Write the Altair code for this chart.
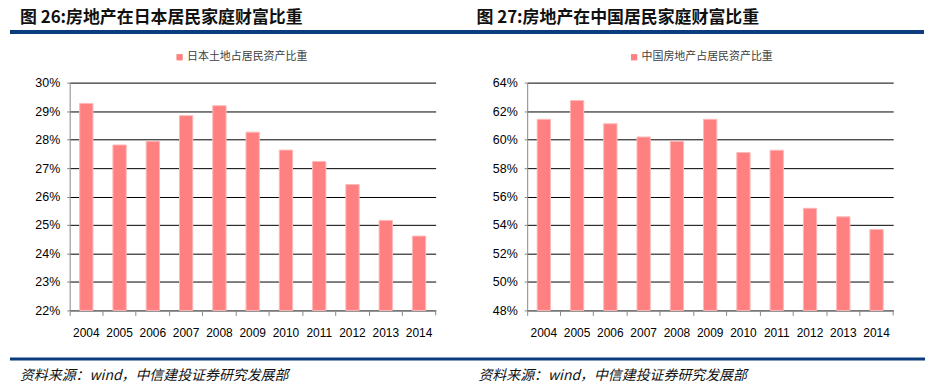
import altair as alt
import pandas as pd

years = [str(y) for y in range(2004, 2015)]
japan = [29.27, 27.81, 27.94, 28.84, 29.19, 28.26, 27.63, 27.23, 26.42, 25.16, 24.61]
china = [61.42, 62.74, 61.11, 60.18, 59.88, 61.42, 59.09, 59.25, 55.17, 54.57, 53.68]

japan_ticks = [22, 23, 24, 25, 26, 27, 28, 29, 30]
china_ticks = [48, 50, 52, 54, 56, 58, 60, 62, 64]

titles = ["图 26:房地产在日本居民家庭财富比重", "图 27:房地产在中国居民家庭财富比重"]
series_names = ["日本土地占居民资产比重", "中国房地产占居民资产比重"]
source = "资料来源：wind，中信建投证券研究发展部"

W, H = 368, 229
NARROW = "Liberation Sans, Arial, sans-serif"
CJK = "Noto Sans CJK SC"
BAR = "#FF8080"
NAVY = "#0B3D7E"
GREY = "#868686"


def panel(values, ticks, series, title, legend_x, title_x, src_x, decorate):
    df = pd.DataFrame({"year": years, "value": values, "series": series})
    lo, hi = ticks[0], ticks[-1]
    bars = alt.Chart(df).mark_bar(
        width=alt.RelativeBandSize(0.4), stroke="#FFB8B8", strokeWidth=1
    ).encode(
        x=alt.X("year:N", sort=years,
                scale=alt.Scale(paddingInner=0, paddingOuter=0),
                axis=alt.Axis(title=None, bandPosition=0,
                              labelAngle=0, tickSize=5, tickColor=GREY,
                              domainColor=GREY, labelFont=NARROW, labelFontSize=12,
                              labelColor="#000", labelPadding=12, grid=False,
                              labelOverlap=False, labelFlush=False)),
        y=alt.Y("value:Q",
                scale=alt.Scale(domain=[lo, hi], nice=False, zero=False),
                axis=alt.Axis(title=None, values=ticks, labelExpr="datum.value + '%'",
                              grid=True, gridColor="#000", gridWidth=1,
                              tickSize=3, tickColor=GREY, domainColor=GREY,
                              labelFont=NARROW, labelFontSize=12.5, labelColor="#000",
                              labelPadding=7)),
        y2=alt.datum(lo),
        color=alt.Color("series:N",
                        scale=alt.Scale(domain=[series], range=[BAR]),
                        legend=alt.Legend(orient="none", legendX=legend_x, legendY=-31,
                                          title=None, symbolType="square", symbolSize=40,
                                          symbolStrokeWidth=0, labelFont=CJK,
                                          labelFontSize=11, labelColor="#404040",
                                          labelOffset=2)),
    )
    end_tick = alt.Chart(pd.DataFrame({"a": [0]})).mark_rule(color=GREY).encode(
        x=alt.value(W), y=alt.value(H), y2=alt.value(H + 5))
    ttl = alt.Chart(pd.DataFrame({"t": [title]})).mark_text(
        align="left", baseline="middle", font=CJK, fontSize=17, fontWeight="bold",
        color="#111").encode(text="t:N", x=alt.value(title_x), y=alt.value(-65))
    src = alt.Chart(pd.DataFrame({"t": [source]})).mark_text(
        align="left", baseline="middle", font=CJK, fontSize=14, fontStyle="italic",
        color="#111").encode(text="t:N", x=alt.value(src_x), y=alt.value(295))
    layers = [bars, end_tick, ttl, src]
    if decorate:
        top_line = alt.Chart(pd.DataFrame({"a": [0]})).mark_rule(
            color=NAVY, strokeWidth=4, strokeCap="butt").encode(
            x=alt.value(-60), x2=alt.value(859), y=alt.value(-51))
        bot_line = alt.Chart(pd.DataFrame({"a": [0]})).mark_rule(
            color=NAVY, strokeWidth=3, strokeCap="butt").encode(
            x=alt.value(-60), x2=alt.value(860), y=alt.value(278))
        bound = alt.Chart(pd.DataFrame({"a": [0]})).mark_rule(
            opacity=0, strokeWidth=1).encode(
            x=alt.value(-62), x2=alt.value(-61), y=alt.value(-74))
        layers = [top_line, bot_line, bound] + layers
    return alt.layer(*layers).properties(width=W, height=H)


left = panel(japan, japan_ticks, series_names[0], titles[0], 105, -50, -50, True)
right = panel(china, china_ticks, series_names[1], titles[1], 102, -51, -49, False)

chart = alt.hconcat(left, right, spacing=92, bounds="flush").properties(
    padding=0
).configure_view(stroke=None).resolve_scale(color="independent", y="independent", x="independent")

chart.save("out.html", embed_options={"renderer": "svg", "actions": False})
